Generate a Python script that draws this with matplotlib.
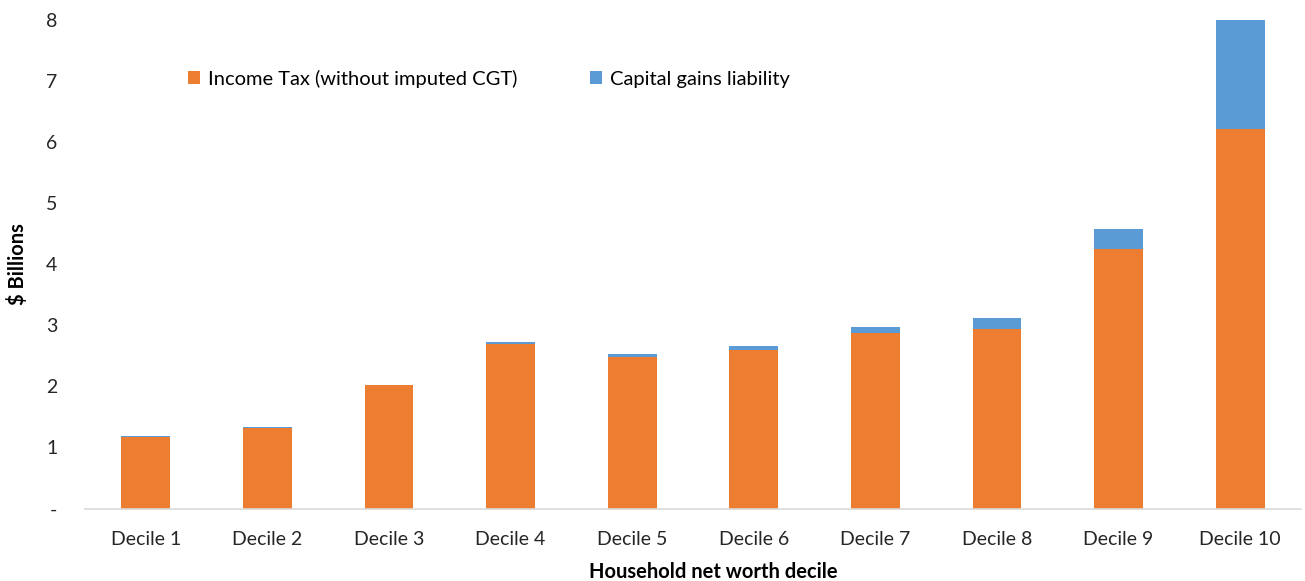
import matplotlib.pyplot as plt
import numpy as np

plt.rcParams['font.family'] = ['Lato', 'DejaVu Sans']

deciles = ["Decile 1", "Decile 2", "Decile 3", "Decile 4", "Decile 5",
           "Decile 6", "Decile 7", "Decile 8", "Decile 9", "Decile 10"]
income_tax = [1.17, 1.32, 2.02, 2.69, 2.48, 2.60, 2.87, 2.94, 4.25, 6.22]
cgt_liability = [0.01, 0.02, 0.01, 0.04, 0.05, 0.06, 0.11, 0.18, 0.33, 1.78]

orange = '#ED7D31'
blue = '#5B9BD5'

fig = plt.figure(figsize=(13.05, 5.81), dpi=100)
ax = fig.add_axes([85 / 1305, 1 - 508.5 / 581, (1301 - 85) / 1305, (508.5 - 20) / 581])

x = np.arange(len(deciles))
ax.bar(x, income_tax, 0.4, color=orange, label='Income Tax (without imputed CGT)')
ax.bar(x, cgt_liability, 0.4, bottom=income_tax, color=blue, label='Capital gains liability')

ax.set_xlim(-0.5, len(deciles) - 0.5)
ax.set_ylim(0, 8)
ax.set_yticks(range(9))
ax.set_yticklabels(['-'] + [str(i) for i in range(1, 9)])
ax.set_xticks(x)
ax.set_xticklabels(deciles)
ax.tick_params(length=0, labelsize=14, colors='#262626')
ax.tick_params(axis='y', pad=20)
ax.tick_params(axis='x', pad=16)

for side in ['top', 'right', 'left']:
    ax.spines[side].set_visible(False)
ax.spines['bottom'].set_color('#d9d9d9')
ax.spines['bottom'].set_linewidth(1.2)

ax.set_ylabel('$ Billions', fontsize=14.5, fontweight='bold')
ax.yaxis.set_label_coords(-57 / 1216, 0.5)
ax.set_xlabel('Household net worth decile', fontsize=14.5, fontweight='bold')
ax.xaxis.set_label_coords(0.517, -53 / 488.5)

ax.legend(loc='center left', bbox_to_anchor=(0.07, 0.88), ncol=2, frameon=False,
          fontsize=14.5, handlelength=0.6, handleheight=0.6, handletextpad=0.4,
          columnspacing=3.6)

fig.savefig('out.png', dpi=100)
